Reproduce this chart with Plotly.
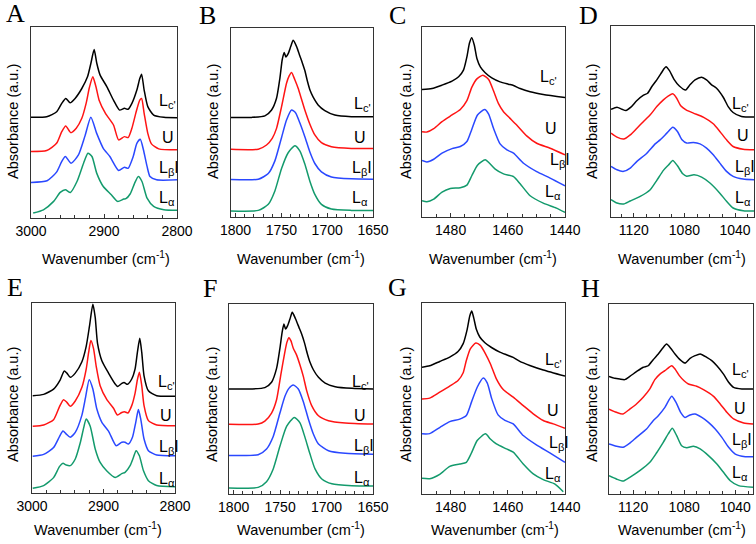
import plotly.graph_objects as go

W, H = 756, 544

# ---------------- Panel A / E : CH stretching region (cm-1) ----------------
a_lc_wn = [3000, 2978.5, 2964.8, 2957.9, 2952.4, 2946.4, 2939.6, 2930.4, 2922.6, 2918, 2913.5, 2909.8, 2905.3, 2896, 2887, 2878.7, 2872, 2867, 2861.8, 2855, 2851, 2848.5, 2845, 2840, 2832, 2818, 2800]
a_lc_ab = [52.7, 53.0, 55.6, 60.0, 62.6, 60.3, 62.6, 67.8, 73.9, 80.9, 88.2, 80.9, 74.8, 68.7, 61.7, 56.5, 57.4, 56.9, 60.0, 67.0, 73.0, 75.3, 67.0, 58.3, 53.9, 52.7, 52.5]
a_u_wn = [3000, 2978.5, 2965, 2957.9, 2952.4, 2945.5, 2938, 2930.4, 2924.5, 2920, 2915.3, 2911, 2906.7, 2898, 2887, 2880, 2872, 2867, 2861.8, 2856.5, 2851, 2848.5, 2845, 2840, 2835, 2825, 2800]
a_u_ab = [34.8, 35.3, 39.1, 45.2, 48.2, 44.7, 47.0, 52.2, 60.0, 68.3, 73.9, 68.7, 61.7, 54.8, 48.7, 40.9, 42.6, 42.1, 47.0, 54.8, 61.7, 62.6, 54.8, 44.3, 38.8, 36.2, 35.7]
a_lb_wn = [3000, 2978, 2965, 2958, 2953, 2945, 2935, 2926, 2918, 2910, 2901, 2892, 2880, 2872, 2867, 2860, 2855, 2850.3, 2846, 2841, 2837, 2828, 2800]
a_lb_ab = [18.6, 19.5, 24.0, 29.5, 32.2, 28.7, 33.0, 43.0, 52.7, 44.3, 36.5, 32.2, 24.9, 26.6, 26.0, 32.2, 39.1, 41.2, 35.7, 27.0, 21.7, 20.0, 20.0]
a_la_wn = [2997, 2983, 2969, 2960, 2953, 2946, 2937, 2928, 2922, 2916.5, 2910, 2901, 2890, 2881.5, 2873, 2870, 2864, 2858, 2853, 2848, 2841, 2832, 2818, 2800]
a_la_ab = [2.6, 4.3, 8.7, 13.4, 14.8, 13.4, 19.1, 28.7, 33.9, 32.2, 23.5, 16.5, 12.2, 8.7, 9.9, 10.1, 12.7, 18.3, 21.7, 19.1, 10.4, 6.1, 4.3, 4.0]

e_lc_wn = [2999, 2983.7, 2969.8, 2960.5, 2954.9, 2951.2, 2946.5, 2939.5, 2930.2, 2924.2, 2919.5, 2914.9, 2911.6, 2908.4, 2902.3, 2893, 2883.7, 2880, 2874.4, 2871.2, 2866.5, 2860.5, 2855.8, 2852.6, 2849.3, 2846.5, 2843.3, 2837.2, 2825.6, 2800]
e_lc_ab = [51.2, 51.9, 54.7, 59.6, 64.2, 63.1, 60.9, 63.1, 69.1, 77.2, 88.1, 99.3, 92.4, 78.9, 69.6, 63.1, 57.4, 56.1, 57.7, 58.2, 57.2, 60.0, 65.3, 74.0, 81.4, 74.0, 61.7, 53.8, 51.2, 50.9]
e_u_wn = [2999, 2983.7, 2969.8, 2961.4, 2955.8, 2951.2, 2946.5, 2939.5, 2930.2, 2924.2, 2920.9, 2917.7, 2914, 2910.2, 2904.7, 2895.3, 2886, 2880.5, 2874.4, 2870.7, 2866, 2860.5, 2855.8, 2852.6, 2849.8, 2846.5, 2843.3, 2837.2, 2825.6, 2800]
e_u_ab = [35.1, 35.8, 38.6, 45.6, 49.1, 47.7, 45.6, 48.4, 55.6, 65.2, 73.7, 80.2, 76.1, 66.7, 56.5, 49.1, 44.6, 41.0, 42.4, 42.8, 42.1, 46.0, 52.6, 59.6, 63.5, 56.5, 46.0, 38.1, 35.8, 35.4]
e_lb_wn = [2999, 2983.7, 2969.8, 2961.4, 2956.7, 2952.1, 2946.5, 2939.5, 2930.2, 2925.1, 2920, 2914.9, 2909.3, 2902.3, 2893, 2882.3, 2874.4, 2869.8, 2865.1, 2859.5, 2854.9, 2851.2, 2847.9, 2843.3, 2837.2, 2825.6, 2800]
e_lb_ab = [19.3, 20.3, 23.9, 29.8, 32.6, 31.0, 29.3, 31.9, 41.0, 50.3, 59.6, 54.7, 44.2, 37.2, 32.6, 24.9, 26.7, 26.7, 25.8, 29.3, 37.2, 43.9, 38.9, 28.4, 22.3, 20.0, 19.6]
e_la_wn = [2999, 2983.7, 2969.8, 2961.4, 2956.7, 2952.1, 2946.5, 2939.5, 2932.6, 2927.9, 2924.2, 2918.6, 2911.6, 2904.7, 2895.3, 2883.7, 2874.4, 2869.8, 2862.8, 2858.1, 2854.4, 2849.8, 2844.2, 2837.2, 2825.6, 2800]
e_la_ab = [2.5, 3.9, 8.1, 14.0, 15.6, 14.7, 14.4, 17.9, 26.3, 34.0, 38.9, 35.1, 23.2, 16.1, 11.6, 8.2, 10.2, 10.9, 14.4, 18.8, 22.3, 19.6, 11.8, 6.5, 3.9, 3.3]

# ---------------- Panel B / F : C=O stretching region ----------------
b_lc_wn = [1805, 1782.5, 1768, 1760.7, 1755.3, 1751.6, 1749.1, 1746.9, 1745.1, 1742.6, 1739.7, 1737.1, 1733.5, 1729.9, 1727.3, 1724.4, 1721.5, 1718.6, 1715.3, 1709.9, 1702.6, 1691.7, 1673.6, 1650]
b_lc_ab = [52.7, 52.7, 53.5, 56.6, 62.8, 73.5, 83.2, 87.1, 84.6, 86.4, 90.3, 93.5, 90.3, 85.3, 81.8, 77.5, 71.7, 66.9, 63.4, 59.3, 56.3, 54.0, 53.1, 53.1]
b_u_wn = [1805, 1775.2, 1766.2, 1760, 1755.3, 1749.8, 1744.4, 1741.5, 1738.9, 1735.3, 1731.7, 1728, 1724.4, 1719, 1713.5, 1706.3, 1695.4, 1673.6, 1650]
b_u_ab = [35.8, 35.9, 38.1, 41.6, 46.9, 58.4, 70.8, 74.7, 76.5, 72.6, 68.1, 62.3, 56.6, 49.2, 43.4, 39.3, 37.2, 36.3, 36.3]
b_lb_wn = [1805, 1775.2, 1764.3, 1757.1, 1749.8, 1744.4, 1738.9, 1734.6, 1729.9, 1724.4, 1719, 1713.5, 1706.3, 1695.4, 1673.6, 1650]
b_lb_ab = [19.8, 20.0, 23.0, 29.7, 42.1, 51.3, 56.6, 55.2, 49.9, 42.5, 34.5, 28.3, 23.9, 21.2, 20.2, 20.0]
b_la_wn = [1805, 1775.2, 1764.3, 1757.1, 1749.8, 1742.6, 1735.3, 1729.9, 1724.4, 1719, 1713.5, 1706.3, 1695.4, 1673.6, 1650]
b_la_ab = [3.2, 3.5, 6.7, 13.8, 25.7, 34.0, 37.7, 35.0, 28.0, 19.1, 12.0, 6.7, 4.2, 3.5, 3.5]

f_lc_wn = [1805, 1780.8, 1766.4, 1759.2, 1753.8, 1750.2, 1747.7, 1745.9, 1744.1, 1741.9, 1739.4, 1736.9, 1733.3, 1729.7, 1726.8, 1723.9, 1720.6, 1717.8, 1714.2, 1708.7, 1701.5, 1690.7, 1672.7, 1650]
f_lc_ab = [55.3, 55.3, 56.0, 58.8, 66.1, 76.7, 85.4, 89.5, 86.8, 88.6, 92.1, 95.6, 92.1, 87.7, 84.2, 79.8, 73.7, 69.3, 65.4, 61.4, 58.4, 56.5, 55.6, 55.3]
f_u_wn = [1805, 1773.6, 1766.4, 1759.2, 1753.8, 1749.1, 1744.8, 1742.7, 1740.5, 1738.4, 1735.8, 1732.2, 1728.6, 1725, 1721.4, 1716, 1708.7, 1697.9, 1679.9, 1650]
f_u_ab = [36.7, 36.8, 38.4, 42.6, 49.6, 63.1, 74.9, 79.8, 82.3, 80.7, 76.7, 73.1, 67.9, 61.9, 54.4, 46.5, 41.2, 38.6, 37.4, 36.8]
f_lb_wn = [1805, 1773.6, 1764.6, 1757.4, 1750.2, 1744.8, 1740.5, 1735.8, 1730.4, 1725, 1719.6, 1714.2, 1708.7, 1697.9, 1679.9, 1650]
f_lb_ab = [20.3, 20.7, 23.7, 30.3, 42.6, 51.4, 55.6, 57.4, 55.3, 48.6, 39.5, 31.6, 26.3, 22.8, 21.4, 20.9]
f_la_wn = [1805, 1773.6, 1764.6, 1757.4, 1750.2, 1743, 1734.7, 1728.6, 1723.2, 1717.8, 1712.4, 1705.1, 1694.3, 1672.7, 1650]
f_la_ab = [3.2, 3.5, 6.5, 13.2, 25.1, 35.6, 40.3, 37.4, 29.8, 21.0, 13.2, 7.9, 5.4, 4.4, 4.2]

# ---------------- Panel C / G : CH2 scissoring region ----------------
c_lc_wn = [1490, 1486.5, 1483, 1479.5, 1477.2, 1475.5, 1474.3, 1473.4, 1472.6, 1471.7, 1470.8, 1469.6, 1467.9, 1465.6, 1462.7, 1459.8, 1458, 1455.7, 1452.2, 1447.6, 1440]
c_lc_ab = [67.1, 67.6, 69.4, 71.5, 73.8, 77.3, 84.3, 91.6, 94.4, 90.4, 83.4, 79.0, 75.9, 73.2, 71.1, 69.9, 69.2, 67.6, 65.9, 64.5, 62.9]
c_u_wn = [1490, 1488.3, 1485.9, 1483, 1479.5, 1476.6, 1474.3, 1472.6, 1470.8, 1468.7, 1466.7, 1465, 1463.3, 1461.5, 1459.2, 1456.9, 1453.4, 1449.9, 1445.2, 1440]
c_u_ab = [44.9, 44.7, 46.5, 50.2, 53.7, 56.6, 61.2, 68.2, 72.7, 74.6, 72.4, 66.4, 59.8, 55.4, 51.9, 48.4, 42.7, 38.8, 36.2, 32.7]
c_lb_wn = [1490, 1488.3, 1485.9, 1483, 1479.5, 1476.6, 1474.3, 1472.6, 1470.6, 1468.1, 1466.7, 1465, 1462.7, 1460.3, 1458, 1454.5, 1449.9, 1445.2, 1440]
c_lb_ab = [29.7, 29.0, 30.4, 33.6, 36.0, 37.1, 39.7, 46.1, 53.7, 56.6, 54.2, 46.7, 38.5, 35.3, 33.6, 28.3, 23.9, 20.5, 16.4]
c_la_wn = [1490, 1488.3, 1485.9, 1483, 1480.1, 1476.6, 1474.3, 1472.6, 1470.6, 1467.9, 1466.4, 1464.4, 1461.5, 1458, 1455.7, 1452.2, 1447.6, 1443, 1440]
c_la_ab = [8.6, 8.0, 9.4, 13.1, 15.0, 15.4, 16.8, 21.7, 27.3, 30.1, 28.3, 25.2, 22.7, 21.3, 17.5, 11.2, 7.3, 4.7, 2.4]

g_lc_wn = [1490, 1487.3, 1483.8, 1480.3, 1477.4, 1475.6, 1474.2, 1473.3, 1472.6, 1471.9, 1471, 1469.8, 1468, 1465.7, 1462.8, 1460.5, 1458.1, 1455.8, 1452.3, 1447.6, 1440]
g_lc_ab = [66.4, 67.1, 69.4, 71.7, 74.6, 78.7, 86.2, 93.2, 95.8, 92.1, 86.2, 82.2, 79.2, 76.7, 74.3, 72.9, 71.5, 69.4, 67.3, 64.9, 61.7]
g_u_wn = [1490, 1487.3, 1483.8, 1480.3, 1477.4, 1475.6, 1474.5, 1473.1, 1471.2, 1469.6, 1467.8, 1466.1, 1464, 1461.6, 1458.1, 1454.6, 1451.1, 1447.6, 1444.1, 1440]
g_u_ab = [49.8, 50.2, 53.3, 56.5, 59.4, 63.5, 69.9, 76.0, 79.0, 77.8, 73.4, 68.2, 60.3, 54.7, 50.7, 46.3, 42.0, 38.5, 36.7, 34.4]
g_lb_wn = [1490, 1487.3, 1483.8, 1480.3, 1476.8, 1474.5, 1472.7, 1470.7, 1468.6, 1467.2, 1465.6, 1463.4, 1461, 1458.1, 1454.6, 1450, 1445.3, 1440]
g_lb_ab = [31.5, 31.6, 34.8, 37.9, 39.2, 41.1, 48.1, 55.9, 60.7, 58.2, 49.8, 41.4, 38.5, 36.7, 30.6, 25.7, 21.5, 16.6]
g_la_wn = [1490, 1487.3, 1483.8, 1480.3, 1476.8, 1474.5, 1472.7, 1470.7, 1467.8, 1466.1, 1464, 1460.5, 1458.1, 1454.6, 1451.1, 1447.6, 1443.5, 1440.6]
g_la_ab = [8.2, 8.0, 10.3, 14.5, 15.7, 16.6, 21.5, 28.0, 31.5, 28.8, 26.2, 23.6, 21.9, 15.7, 10.5, 7.5, 5.2, 1.2]

# ---------------- Panel D / H : phosphate / C-O region ----------------
d_lc_wn = [1138, 1133.3, 1129.3, 1126.2, 1122.3, 1117.5, 1112.3, 1109.1, 1105.7, 1101.8, 1098.7, 1096, 1094.5, 1091.8, 1088.2, 1084, 1079, 1075.6, 1071.6, 1066.4, 1062.5, 1058.5, 1054.6, 1049.3, 1045.4, 1041.5, 1034.9, 1025]
d_lc_ab = [56.4, 57.5, 56.4, 55.7, 57.5, 61.0, 63.8, 64.8, 68.3, 71.8, 74.9, 77.7, 78.7, 76.6, 72.1, 68.6, 66.5, 69.2, 71.8, 73.2, 71.8, 69.2, 67.4, 62.7, 57.8, 54.7, 52.6, 52.3]
d_u_wn = [1138, 1133.3, 1128, 1122.8, 1117.5, 1112.3, 1107, 1101.8, 1096.6, 1092.6, 1089.2, 1086.1, 1082.9, 1078.7, 1072.9, 1065.1, 1057.2, 1052, 1046.7, 1041.5, 1033.6, 1025]
d_u_ab = [43.9, 41.8, 40.8, 43.0, 46.5, 50.0, 53.5, 57.8, 61.3, 63.4, 64.5, 62.2, 58.2, 56.1, 54.4, 52.3, 48.8, 44.8, 40.4, 36.9, 35.5, 35.2]
d_lb_wn = [1138, 1133.3, 1128, 1122.8, 1117.5, 1109.7, 1103.1, 1099.2, 1093.9, 1089.2, 1085.5, 1081.9, 1078.2, 1072.9, 1067.7, 1062.5, 1057.2, 1052, 1046.7, 1041.5, 1033.6, 1025]
d_lb_ab = [26.5, 24.7, 23.9, 25.6, 29.1, 33.4, 38.3, 40.4, 43.9, 47.0, 44.8, 40.4, 38.7, 39.0, 38.3, 36.1, 32.6, 28.2, 23.9, 21.3, 19.9, 19.5]
d_la_wn = [1138, 1133.3, 1128, 1122.8, 1114.9, 1107, 1101.8, 1096.6, 1092.6, 1089.2, 1085.5, 1081.3, 1078.2, 1072.4, 1066.4, 1059.8, 1052, 1046.7, 1041.5, 1033.6, 1025]
d_la_ab = [9.1, 7.3, 6.8, 8.4, 10.8, 14.3, 19.2, 24.4, 27.2, 29.6, 26.8, 22.6, 21.3, 22.1, 20.9, 17.8, 12.5, 8.2, 4.7, 3.3, 3.1]

h_lc_wn = [1138.9, 1134.4, 1130.5, 1126.6, 1122.6, 1117.4, 1112.1, 1108.2, 1104.3, 1100.3, 1096.9, 1093.8, 1090.6, 1087.2, 1083.3, 1079.3, 1075.4, 1071.5, 1067.5, 1062.3, 1058.4, 1054.4, 1049.2, 1045.2, 1041.3, 1034.8, 1026.1]
h_lc_ab = [61.9, 60.9, 60.5, 60.2, 61.9, 64.4, 66.7, 67.5, 70.7, 73.7, 76.7, 78.9, 76.7, 73.7, 70.7, 68.9, 71.4, 72.8, 73.7, 71.9, 70.2, 67.5, 63.1, 58.8, 56.1, 55.3, 55.3]
h_u_wn = [1138.9, 1133.1, 1127.9, 1122.6, 1117.4, 1112.1, 1106.9, 1103, 1099, 1095.1, 1089.8, 1087.2, 1083.8, 1080.1, 1076.7, 1070.2, 1064.9, 1057, 1051.8, 1046.6, 1041.3, 1033.4, 1026.1]
h_u_ab = [44.7, 43.0, 42.1, 44.7, 47.4, 50.9, 55.3, 60.2, 63.1, 64.9, 67.5, 65.8, 62.3, 59.6, 57.9, 56.7, 54.9, 51.4, 47.4, 43.0, 39.5, 37.4, 36.8]
h_lb_wn = [1138.9, 1133.1, 1127.9, 1122.6, 1117.4, 1109.5, 1104.3, 1100.3, 1095.1, 1089.8, 1086.4, 1082.8, 1079.3, 1075.4, 1071.5, 1066.2, 1061, 1055.7, 1050.5, 1045.2, 1040, 1032.1, 1026.1]
h_lb_ab = [26.3, 25.1, 24.6, 26.8, 29.8, 34.2, 38.6, 41.2, 45.6, 51.4, 48.2, 43.0, 40.3, 41.6, 42.1, 40.3, 37.7, 34.2, 29.8, 24.6, 21.0, 19.6, 19.6]
h_la_wn = [1138.9, 1133.1, 1127.9, 1122.6, 1114.8, 1106.9, 1101.7, 1096.4, 1092.5, 1089.3, 1085.9, 1082, 1078, 1072.8, 1067.5, 1061, 1054.4, 1049.2, 1043.9, 1037.4, 1026.1]
h_la_ab = [9.6, 7.9, 6.8, 8.8, 12.3, 16.7, 21.6, 27.2, 31.6, 34.6, 30.7, 25.4, 24.4, 25.1, 23.7, 20.2, 15.8, 11.4, 7.0, 4.4, 3.5]

# ---------------- labels ----------------
phase_labels = ["L<sub>c'</sub>", "U", "L<sub>β</sub>I", "L<sub>α</sub>"]
panel_letters = ["A", "B", "C", "D", "E", "F", "G", "H"]
x_ranges = [[3000, 2800], [1805, 1650], [1490, 1440], [1138, 1025],
            [3000, 2800], [1805, 1650], [1490, 1440], [1138.9, 1026.1]]
x_tickvals = [[3000, 2900, 2800], [1800, 1750, 1700, 1650], [1480, 1460, 1440], [1120, 1080, 1040]] * 2
x_minor = [20, 10, 5, 10] * 2

panel_series = [
    [(a_lc_wn, a_lc_ab), (a_u_wn, a_u_ab), (a_lb_wn, a_lb_ab), (a_la_wn, a_la_ab)],
    [(b_lc_wn, b_lc_ab), (b_u_wn, b_u_ab), (b_lb_wn, b_lb_ab), (b_la_wn, b_la_ab)],
    [(c_lc_wn, c_lc_ab), (c_u_wn, c_u_ab), (c_lb_wn, c_lb_ab), (c_la_wn, c_la_ab)],
    [(d_lc_wn, d_lc_ab), (d_u_wn, d_u_ab), (d_lb_wn, d_lb_ab), (d_la_wn, d_la_ab)],
    [(e_lc_wn, e_lc_ab), (e_u_wn, e_u_ab), (e_lb_wn, e_lb_ab), (e_la_wn, e_la_ab)],
    [(f_lc_wn, f_lc_ab), (f_u_wn, f_u_ab), (f_lb_wn, f_lb_ab), (f_la_wn, f_la_ab)],
    [(g_lc_wn, g_lc_ab), (g_u_wn, g_u_ab), (g_lb_wn, g_lb_ab), (g_la_wn, g_la_ab)],
    [(h_lc_wn, h_lc_ab), (h_u_wn, h_u_ab), (h_lb_wn, h_lb_ab), (h_la_wn, h_la_ab)],
]

colors = ["#000000", "#ff1414", "#2a48ff", "#139a6c"]

# ---------------- layout geometry (pixels) ----------------
boxes = [(31, 27, 177, 218), (231, 28, 373, 217), (422, 27, 565, 217), (611, 26, 754, 217),
         (32, 303, 175, 493), (229, 304, 373, 494), (422, 303, 565, 494), (609, 304, 753, 494)]
letter_pos = [(15, 13), (207, 15), (397, 15), (588, 15), (15, 287), (210, 288), (397, 287), (590, 288)]
ytitle_pos = [(13, 122), (213, 122), (406, 122), (592, 122), (13, 405), (212, 405), (406, 405), (592, 405)]
xtitle_pos = [(106, 258), (301, 258), (493, 258), (682, 258), (98, 529), (301, 529), (495, 529), (682, 529)]
label_pos = [
    [(157, 101), (160, 137), (157, 168), (157, 199)],
    [(352, 105), (352, 137), (350, 168), (350, 199)],
    [(538, 78), (543, 128), (548, 160), (543, 192)],
    [(730, 105), (735, 135), (733, 167), (733, 199)],
    [(156, 382), (158, 415), (157, 447), (157, 479)],
    [(350, 382), (352, 415), (352, 446), (352, 478)],
    [(543, 360), (545, 410), (547, 443), (543, 474)],
    [(730, 370), (732, 408), (730, 440), (730, 473)],
]

def px(x):
    return x / W

def py(y):
    return 1 - y / H

SANS = "Arial, Liberation Sans, sans-serif"
SERIF = "Times New Roman, Liberation Serif, serif"

fig = go.Figure()
layout = dict(width=W, height=H, margin=dict(l=0, r=0, t=0, b=0, pad=0, autoexpand=False),
              paper_bgcolor="white", plot_bgcolor="white", showlegend=False)
annotations = []

for i in range(8):
    n = "" if i == 0 else str(i + 1)
    xa, ya = "x" + n, "y" + n
    for (wn, ab), col in zip(panel_series[i], colors):
        fig.add_trace(go.Scatter(x=wn, y=ab, xaxis=xa, yaxis=ya, mode="lines",
                                 line=dict(color=col, width=1.5, shape="spline", smoothing=0.6),
                                 hoverinfo="skip"))
    l, t, r, b = boxes[i]
    layout["xaxis" + n] = dict(domain=[px(l), px(r)], anchor=ya, range=x_ranges[i], automargin=False,
                               showline=True, mirror=True, linecolor="#333", linewidth=1,
                               showgrid=False, zeroline=False, ticks="inside", ticklen=4,
                               tickcolor="#333", tickvals=x_tickvals[i],
                               minor=dict(ticks="inside", ticklen=3, dtick=x_minor[i], tickcolor="#333", showgrid=False),
                               tickfont=dict(family=SANS, size=14, color="black"))
    layout["yaxis" + n] = dict(domain=[py(b), py(t)], anchor=xa, range=[0, 100], automargin=False,
                               showline=True, mirror=True, linecolor="#333", linewidth=1,
                               showgrid=False, zeroline=False, showticklabels=False, ticks="")
    lx, ly = letter_pos[i]
    annotations.append(dict(text=panel_letters[i], x=px(lx), y=py(ly), xref="paper", yref="paper",
                            showarrow=False, xanchor="center", yanchor="middle",
                            font=dict(family=SERIF, size=26, color="black")))
    tx, ty = ytitle_pos[i]
    annotations.append(dict(text="Absorbance (a.u.)", x=px(tx), y=py(ty), xref="paper", yref="paper",
                            showarrow=False, textangle=-90, xanchor="center", yanchor="middle",
                            font=dict(family=SANS, size=14.5, color="black")))
    wx, wy = xtitle_pos[i]
    annotations.append(dict(text="Wavenumber (cm<sup>-1</sup>)", x=px(wx), y=py(wy), xref="paper", yref="paper",
                            showarrow=False, xanchor="center", yanchor="middle",
                            font=dict(family=SANS, size=14.5, color="black")))
    for (sx, sy), lab in zip(label_pos[i], phase_labels):
        annotations.append(dict(text=lab, x=px(sx), y=py(sy), xref="paper", yref="paper",
                                showarrow=False, xanchor="left", yanchor="middle",
                                font=dict(family=SANS, size=16, color="black")))

layout["annotations"] = annotations
fig.update_layout(**layout)
fig.write_html("out.html", config={"displayModeBar": False},
               post_script="document.body.style.margin='0';document.body.style.padding='0';document.body.style.overflow='hidden';")
